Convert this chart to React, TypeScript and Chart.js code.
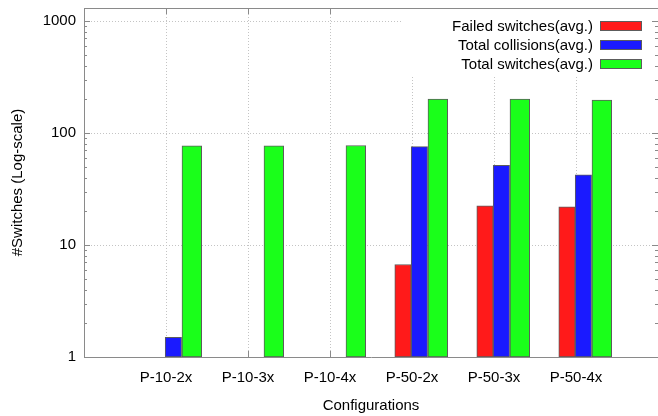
import React, { useEffect, useRef } from 'react';
import { Chart, registerables } from 'chart.js';

Chart.register(...registerables);

// ---- data ----
const CATEGORIES = ['P-10-2x', 'P-10-3x', 'P-10-4x', 'P-50-2x', 'P-50-3x', 'P-50-4x'];
const FAILED_SWITCHES = [null, null, null, 6.7, 22.4, 21.9];
const TOTAL_COLLISIONS = [1.5, null, null, 75.8, 51.6, 42.3];
const TOTAL_SWITCHES = [77, 77, 77.5, 201, 201, 197];
const SERIES_LABELS = ['Failed switches(avg.)', 'Total collisions(avg.)', 'Total switches(avg.)'];
const Y_TICK_LABELS = [1, 10, 100, 1000];

// ---- styles ----
const FONT_FAMILY = '"Liberation Sans", Arial, sans-serif';
const FONT = { family: FONT_FAMILY, size: 15 };
const GRID_COLOR = '#c4c4c4';
const AXIS_COLOR = '#8a8a8a';
const BAR_BORDER = '#5c5c5c';
const COLORS = ['#ff1a1a', '#1a1aff', '#1aff1a'];
const OFFSETS = [-0.11, 0.09, 0.315];
const THICKNESS = [16.4, 16.4, 19.7];

const isMajor = (v: number) => Y_TICK_LABELS.includes(v);

const frameTicks = {
  id: 'frameTicks',
  beforeDatasetsDraw(chart: any) {
    const { ctx, chartArea, scales } = chart;
    const { left, right, top, bottom } = chartArea;
    const x = scales.x;
    const y = scales.y;
    ctx.save();
    ctx.strokeStyle = AXIS_COLOR;
    ctx.lineWidth = 1;
    ctx.setLineDash([]);
    ctx.beginPath();
    ctx.moveTo(left, top + 0.5);
    ctx.lineTo(right, top + 0.5);
    ctx.moveTo(right + 0.5, top);
    ctx.lineTo(right + 0.5, bottom);
    for (const t of y.ticks) {
      const v = t.value;
      const p = Math.pow(10, Math.floor(Math.log10(v) + 1e-9));
      const m = v / p;
      if (Math.abs(m - Math.round(m)) > 1e-6) continue;
      const len = isMajor(v) ? 6 : 3;
      const py = Math.round(y.getPixelForValue(v)) + 0.5;
      if (py < top || py > bottom + 1) continue;
      ctx.moveTo(left, py);
      ctx.lineTo(left + len, py);
      ctx.moveTo(right - len, py);
      ctx.lineTo(right, py);
    }
    CATEGORIES.forEach((_, i) => {
      const px = Math.round(x.getPixelForValue(i)) + 0.5;
      ctx.moveTo(px, bottom);
      ctx.lineTo(px, bottom - 6);
      ctx.moveTo(px, top);
      ctx.lineTo(px, top + 6);
    });
    ctx.stroke();
    ctx.restore();
  },
};

const insideLegend = {
  id: 'insideLegend',
  afterDatasetsDraw(chart: any) {
    const { ctx, chartArea } = chart;
    const { right, top } = chartArea;
    ctx.save();
    ctx.fillStyle = '#ffffff';
    ctx.fillRect(right - 255, top + 1, 247, 66);
    ctx.font = `15px ${FONT_FAMILY}`;
    ctx.textAlign = 'right';
    ctx.textBaseline = 'middle';
    chart.data.datasets.forEach((ds: any, k: number) => {
      const cy = top + 17.5 + k * 19.4;
      ctx.fillStyle = '#000000';
      ctx.fillText(ds.label, right - 65, cy + 1);
      ctx.fillStyle = ds.backgroundColor;
      ctx.fillRect(right - 58, Math.round(cy - 5), 42, 10);
      ctx.strokeStyle = BAR_BORDER;
      ctx.lineWidth = 1;
      ctx.strokeRect(right - 58 + 0.5, Math.round(cy - 5) + 0.5, 41, 9);
    });
    ctx.restore();
  },
};

export default function App() {
  const ref = useRef<HTMLCanvasElement | null>(null);

  useEffect(() => {
    if (!ref.current) return;
    const series = [FAILED_SWITCHES, TOTAL_COLLISIONS, TOTAL_SWITCHES];
    const chart = new Chart(ref.current, {
      type: 'bar',
      data: {
        datasets: series.map((vals, s) => ({
          label: SERIES_LABELS[s],
          data: vals.map((v, i) => ({ x: i + OFFSETS[s], y: v })),
          backgroundColor: COLORS[s],
          borderColor: BAR_BORDER,
          borderWidth: 1,
          borderSkipped: false,
          barThickness: THICKNESS[s],
          grouped: false,
        })),
      } as any,
      options: {
        responsive: false,
        animation: false,
        layout: { padding: { top: 8, right: 0, bottom: 0, left: 0 } },
        plugins: {
          legend: { display: false },
          tooltip: { enabled: false },
        },
        scales: {
          x: {
            type: 'linear',
            min: -1,
            max: 6,
            offset: false,
            afterBuildTicks: (s: any) => {
              s.ticks = CATEGORIES.map((_, i) => ({ value: i }));
            },
            afterFit: (s: any) => {
              s.height = 59;
              s.paddingLeft = 0;
              s.paddingRight = 0;
            },
            ticks: {
              callback: (v: any) => CATEGORIES[v] ?? '',
              font: FONT,
              color: '#000',
              padding: 12,
              autoSkip: false,
              maxRotation: 0,
              minRotation: 0,
            },
            grid: { color: GRID_COLOR, drawTicks: false, offset: false, lineWidth: 1 },
            border: { display: true, color: AXIS_COLOR, dash: [1, 2] },
            title: {
              display: true,
              text: 'Configurations',
              font: FONT,
              color: '#000',
              padding: { top: 0, bottom: 1 },
            },
          },
          y: {
            type: 'logarithmic',
            min: 1,
            max: 1310,
            afterFit: (s: any) => {
              s.width = 84;
              s.paddingTop = 0;
              s.paddingBottom = 0;
            },
            ticks: {
              callback: (v: any) => (isMajor(v) ? String(v) : ''),
              autoSkip: false,
              font: FONT,
              color: '#000',
              padding: 8,
            },
            grid: {
              color: (c: any) => (c.tick && isMajor(c.tick.value) ? GRID_COLOR : 'rgba(0,0,0,0)'),
              drawTicks: false,
              lineWidth: 1,
            },
            border: { display: true, color: AXIS_COLOR, dash: [1, 2] },
            title: {
              display: true,
              text: '#Switches (Log-scale)',
              font: FONT,
              color: '#000',
              padding: { top: 9, bottom: 0 },
            },
          },
        },
      } as any,
      plugins: [frameTicks, insideLegend],
    });
    return () => chart.destroy();
  }, []);

  return (
    <canvas
      ref={ref}
      width={658}
      height={416}
      style={{ position: 'absolute', left: 0, top: 0, display: 'block' }}
    />
  );
}
